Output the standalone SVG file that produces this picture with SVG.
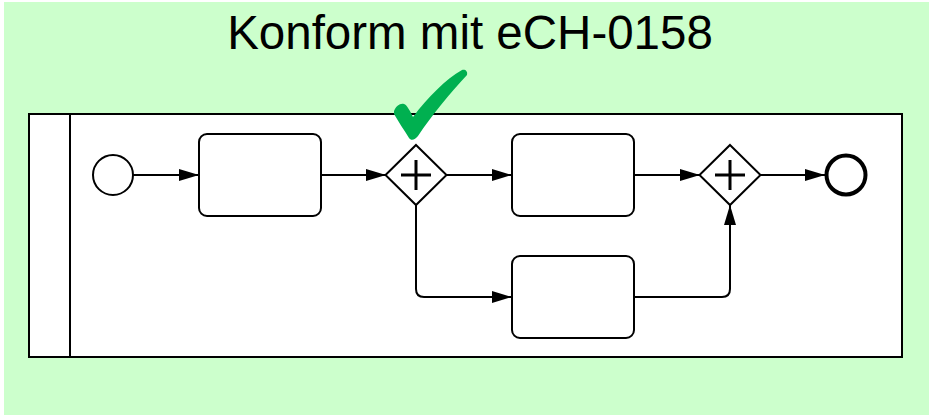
<svg xmlns="http://www.w3.org/2000/svg" width="932" height="415" viewBox="0 0 932 415">
<style>
.shape{fill:#fff;stroke:#000;stroke-width:2}
.flow{fill:none;stroke:#000;stroke-width:2}
.title{font-family:"Liberation Sans",Arial,sans-serif;font-size:47.5px;fill:#000}
</style>
<defs>
<marker id="arr" markerWidth="20" markerHeight="12" refX="20" refY="6" orient="auto" markerUnits="userSpaceOnUse">
<path d="M0,0 L20,6 L0,12 Z" fill="#000"/>
</marker>
</defs>
<rect x="0" y="0" width="932" height="415" fill="#fff"/>
<rect x="4" y="2" width="925" height="413" fill="#CCFFCC"/>
<text class="title" x="470" y="48.5" text-anchor="middle">Konform mit eCH-0158</text>
<g id="pool">
<rect class="shape" x="29" y="114" width="873" height="243"/>
<line x1="70" y1="114" x2="70" y2="357" stroke="#000" stroke-width="2"/>
</g>
<g id="connectors">
<path class="flow" d="M133,175 L199,175" marker-end="url(#arr)"/>
<path class="flow" d="M321,175 L386,175" marker-end="url(#arr)"/>
<path class="flow" d="M447,175 L512,175" marker-end="url(#arr)"/>
<path class="flow" d="M416,205 L416,289 Q416,297 424,297 L512,297" marker-end="url(#arr)"/>
<path class="flow" d="M634,175 L700,175" marker-end="url(#arr)"/>
<path class="flow" d="M634,297 L722,297 Q730,297 730,289 L730,205" marker-end="url(#arr)"/>
<path class="flow" d="M760,175 L825,175" marker-end="url(#arr)"/>
</g>
<g id="start"><circle class="shape" cx="113" cy="175" r="20"/></g>
<g id="task1"><rect class="shape" x="199" y="134" width="122" height="82" rx="8"/></g>
<g id="gateway1">
<path class="shape" d="M416,145 L446.5,175 L416,205 L385.5,175 Z"/>
<path d="M416,160 V190 M401,175 H431" stroke="#000" stroke-width="3" fill="none"/>
</g>
<g id="task2"><rect class="shape" x="512" y="134" width="122" height="82" rx="8"/></g>
<g id="task3"><rect class="shape" x="512" y="256" width="122" height="82" rx="8"/></g>
<g id="gateway2">
<path class="shape" d="M730,145 L760.5,175 L730,205 L699.5,175 Z"/>
<path d="M730,160 V190 M715,175 H745" stroke="#000" stroke-width="3" fill="none"/>
</g>
<g id="end"><circle cx="846" cy="175" r="19.5" fill="#fff" stroke="#000" stroke-width="4"/></g>
<g id="check">
<path d="M394,111 C396,106 400,103 404,104 C407,105 410,111 413,117 C428,97 446,79 462,70 C465,69 468,71 467,75 C450,93 432,115 418,136 C415,140 411,141 409,138 C404,130 398,121 394,114 Z" fill="#00B050"/>
</g>
</svg>
